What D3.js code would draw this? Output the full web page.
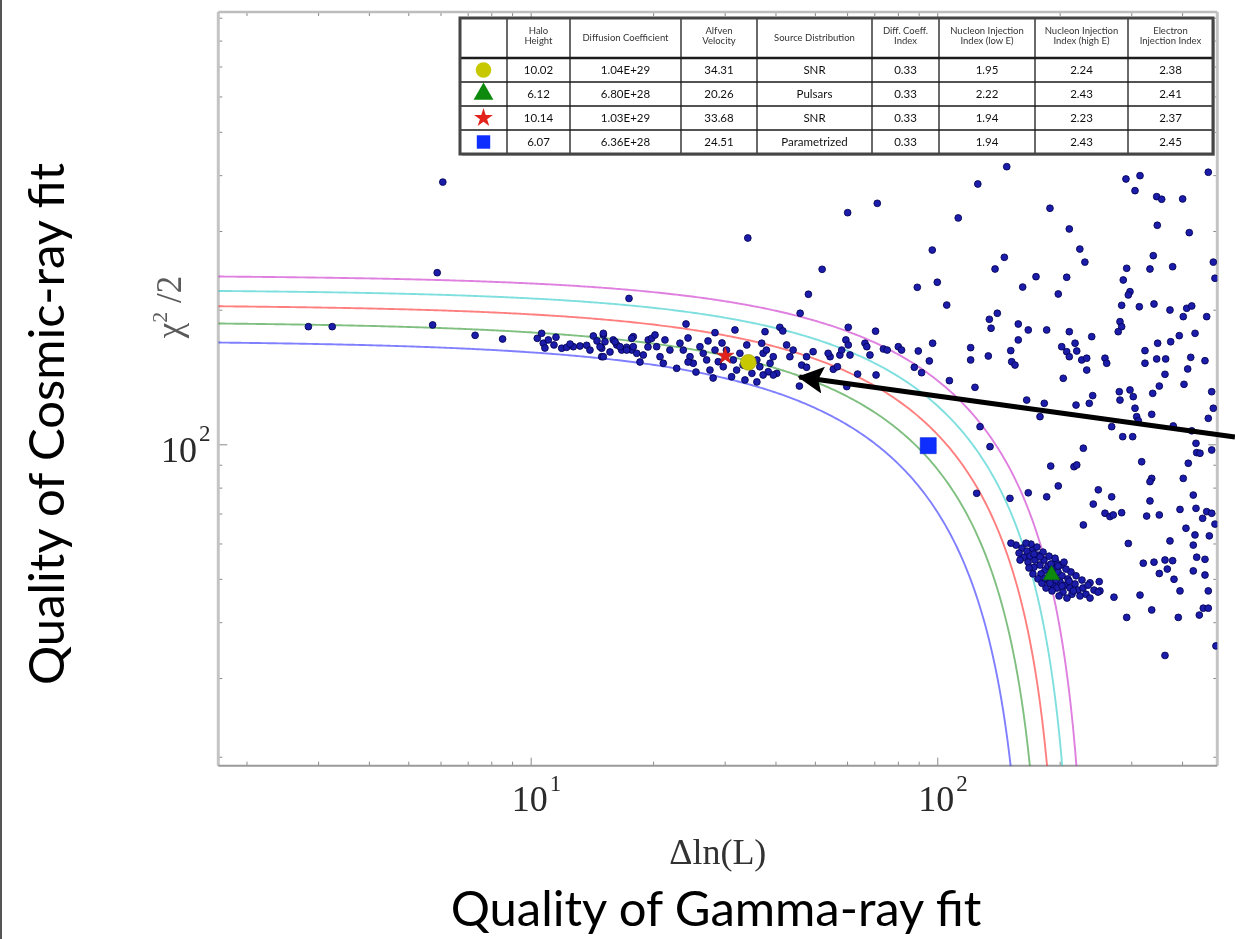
<!DOCTYPE html>
<html>
<head>
<meta charset="utf-8">
<script src="https://cdn.jsdelivr.net/npm/d3@7"></script>
<style>
  html, body { margin: 0; padding: 0; background: #fff; }
  svg { display: block; }
</style>
</head>
<body>
<svg id="chart" width="1235" height="939"></svg>
<script>
// ---------------------------------------------------------------
// Model scan: gamma-ray fit quality (ΔlnL) vs cosmic-ray fit quality (χ²/2)
// ---------------------------------------------------------------

// axis extents
const xDomain = [1.705, 488.3];
const yDomain = [19.1, 926.9];

// tick values
const xMinorTicks = [2, 3, 4, 5, 6, 7, 8, 9, 20, 30, 40, 50, 60, 70, 80, 90, 200, 300, 400];
const xMajorTicks = [10, 100];
const xTickExponents = ["1", "2"];
const yMinorTicks = [20, 30, 40, 50, 60, 70, 80, 90, 200, 300, 400, 500, 600, 700, 800, 900];
const yMajorTicks = [100];
const yTickExponents = ["2"];

// levels of ΔlnL + χ²/2 = const
const totalLevels = [170.6, 188.0, 205.3, 222.0, 239.0];

// scanned models along the low-χ² band  [ΔlnL, χ²/2]
const bandPoints = [
  [6.08,386],[5.89,242],[17.45,212],[2.84,183.3],[3.25,183.3],[5.74,184.9],[7.30,175.3],[8.53,172],
  [10.38,172.6],[10.64,177.1],[10.74,168.3],[11.05,171.2],[11.54,173.6],[11.41,166.8],[11.92,164.0],[12.26,164.8],
  [12.73,165.3],[13.22,165.9],[13.73,166.5],[14.26,174.7],[15.09,175.6],[15.23,169.6],[14.95,164.0],[14.95,157.0],
  [15.96,171.2],[16.28,166.8],[16.74,162.5],[17.22,164.8],[17.88,174.1],[17.72,162.5],[18.23,159.8],[18.92,158.4],
  [19.46,171.2],[24.1,185.8],[28.4,177.7],[31.8,180.2],[37.7,178.6],[41.0,182.7],[41.7,179.3],[60.4,182.7],
  [70.5,179.1],[59.6,171.2],[60.4,166.8],[66.4,168.3],[67.1,165.3],[73.7,163.4],[75.3,162.5],[80.2,165.3],
  [81.7,162.5],[89.8,161.7],[97.4,168.3],[95.6,153.6],[87.8,148.7],[91.5,144.6],[107.1,138.8],[123.8,134.1],
  [120.8,164.5],[120.8,154.4],[133.5,157.6],[89.3,224.5],[100,230.4],[105.5,204.9],[134.3,190.4],[135.6,181.8],
  [140.5,196.4],[97.2,272],[138.7,246.7],[127.4,109.5],[134.8,98.8],
  [45.8,135.0],[70.7,142.9],[63.7,143.6],[55.5,147.2],[56.8,149.1],[57.6,158.4],[54.5,157.0],[49.5,161.1],
  [46.4,150.4],[47.7,148.7],[43.4,157.0],[44.2,162.5],[42.6,166.8],[39.5,157.0],[38.8,151.8],[40.3,144.1],
  [38.4,145.3],[36.6,149.1],[37.3,159.8],[38.0,162.5],[37.0,168.3],
  [15.09,177.1],[14.81,165.3],[15.09,157.0],[16.12,169.6],[16.58,165.3],[17.22,162.5],[17.72,172.6],[17.88,165.3],
  [18.57,152.8],[19.84,172.6],[20.41,165.3],[20.80,157.0],[21.19,151.8],[21.39,171.2],[22.0,162.5],[22.86,147.9],
  [23.29,168.3],[23.73,162.5],[24.65,157.0],[25.11,151.8],[26.08,165.3],[26.57,159.8],[27.09,154.4],[27.6,146.6],
  [28.4,162.5],[28.93,153.0],[29.76,149.1],[30.3,162.5],[31.2,141.6],[31.5,154.4],[32.1,146.6],[32.7,159.8],
  [33.3,150.4],[35.0,144.1],[36.0,154.4],[37.3,142.9],[39.5,142.9],
  [10.84,164.2],[12.50,167.6],[13.99,162.5],[14.56,170.3],[15.67,160.9],[19.43,165.1],[20.22,175.6],[24.38,172.9],
  [27.3,170.3],[29.55,168.5],[34.0,166.8],[25.5,145.1],[28.1,140.7],[24.38,152.8],[33.65,139.3],[36.0,137.9],
  [34.2,289.4],[68.3,158.4],[61.0,158.4],[58.2,162.5],[47.7,157.0],[53.9,159.8],[59.9,134.6],[46.0,196.4]
];

// scanned models with poor fits (upper right)
const scatterPoints = [
  [148.2,417.8],[125.8,382.2],[71.2,346.0],[60.2,329.7],[112.6,320.9],[189.3,337.3],[291.1,392.2],[315.2,399.0],
  [306.4,369.3],[464.0,406.1],[346.4,358.1],[356.4,353.3],[401.3,353.9],[347.6,309.0],[416.6,297.5],[211.2,303.2],
  [52.1,246.3],[146.2,262.0],[224.2,273.4],[230.7,255.6],[174.9,237.1],[162.2,224.8],[208.1,236.4],[198.4,216.9],
  [48.2,216.6],[292.3,247.6],[286.7,233.1],[297.8,219.5],[295.0,215.8],[284.1,204.6],[339.8,264.2],[333.5,246.7],
  [379.2,249.6],[477.4,255.6],[481.9,235.2],[314.0,203.1],[341.2,206.0],[373.5,199.7],[410.6,201.5],[422.5,203.9],
  [402.7,193.0],[459.8,193.0],[281.4,188.1],[284.1,183.3],[278.6,178.6],[430.5,177.1],[393.7,175.0],[375.0,169.6],
  [348.3,168.3],[324.2,162.0],[346.4,155.2],[364.5,155.2],[324.2,151.8],[420.1,156.5],[455.4,153.8],[473.0,131.1],
  [412.9,147.4],[404.4,136.2],[363.1,143.4],[351.6,135.0],[338.7,130.0],
  [158.2,185.8],[167.4,180.2],[158.2,171.2],[185.8,180.2],[211.2,178.6],[239.8,174.1],[151.6,162.0],[152.4,153.0],
  [155.3,150.4],[202.3,165.3],[208.1,161.1],[218.2,168.3],[220.3,161.7],[226.6,154.4],[233.1,155.8],[233.1,146.6],
  [211.2,157.0],[258.5,155.8],[261.0,151.8],[204.1,140.5],[165.9,125.6],[183.3,123.5],[178.9,115.3],[219.4,122.4],
  [236.5,123.5],[241.1,128.5],[280.3,131.1],[297.8,132.3],[303.4,127.8],[281.4,125.6],[306.4,120.4],[309.3,115.3],
  [312.2,112.9],[336.8,116.7],[268.5,109.5],[285.8,104.0],[302.4,104.0],[380.5,109.9],[422.5,107.2],[432.8,100.5],
  [434.5,95.8],[442.7,95.5],[477.4,120.4],[464.0,114.3],[228.7,98.0],[216.9,89.1],[220.3,89.9],[190.1,89.4],
  [198.4,80.7],[248.9,79.1],[268.5,76.3],[318.2,91.4],[336.8,83.9],[333.5,82.5],[414.3,90.7],[402.7,83.9],
  [426.2,77.0],[473.0,97.1],[167.4,77.9],[185.8,76.3],[150.9,75.7],[125.0,77.7],
  [241.9,73.5],[258.5,70.1],[265.9,68.9],[270.9,69.5],[284.1,70.3],[327.3,69.1],[351.6,69.5],[333.5,74.7],
  [395.3,71.5],[432.8,71.9],[459.8,70.7],[473.0,70.1],[481.9,66.3],[449.4,68.3],[228.7,66.0],[295.0,60.0],
  [408.9,64.9],[430.3,62.7],[426.2,59.5],[466.7,62.4],[373.5,60.8],[321.1,54.2],[341.2,54.5],[363.1,55.1],
  [379.2,54.9],[351.6,51.4],[367.9,52.6],[382.1,49.9],[426.2,52.1],[434.5,55.9],[455.4,55.3],[455.4,51.0],
  [395.3,47.0],[464.0,47.0],[315.2,46.0],[292.3,41.0],[336.8,42.6],[391.5,41.0],[441.0,41.5],[451.1,43.0],
  [464.0,43.0],[363.1,33.7],[484.6,35.4],[272.0,45.5],[251.2,47.0],[237.5,49.0],[250.2,49.3]
];

// tight group of models around the pulsar best fit
const clusterPoints = [
  [156.2,59.5],[161.6,58.6],[158.9,57.1],[166.2,57.7],[163.4,55.9],[169.0,56.2],[171.9,58.3],[167.2,54.5],
  [173.9,55.1],[176.8,56.5],[178.9,53.7],[172.9,53.1],[183.0,55.1],[184.1,52.3],[179.9,51.3],[187.2,53.4],
  [189.3,51.0],[191.5,52.9],[194.8,50.2],[186.2,49.7],[192.6,48.4],[198.1,51.8],[200.4,49.2],[197.0,47.7],
  [202.7,50.8],[206.1,48.4],[203.8,46.7],[209.6,50.0],[212.0,47.7],[214.4,46.2],[218.1,48.7],[221.8,47.2],
  [224.4,45.8],[228.2,47.7],[232.1,46.2],[237.5,45.3],[219.4,50.8],[213.2,51.8],[207.3,52.6],[201.5,53.7],
  [195.9,54.5],[188.3,56.2],[182.0,57.4],[175.8,58.9],[170.0,59.8],[165.3,60.1],[185.1,47.7],[191.5,47.0],
  [199.3,45.8],[208.4,45.3],[176.8,50.0],[171.9,51.3],[168.1,52.9],[226.9,49.7],[234.8,48.4],[242.9,47.2],
  [248.5,46.7],[205.0,54.5],[194.8,55.6],[159.8,55.1],[180.9,48.9],[151.8,60.1],
  [184.1,50.2],[189.3,48.9],[195.9,49.7],[202.7,48.2],[198.1,53.4],[190.4,54.0],[178.9,56.0],[172.9,56.8],
  [211.0,49.4],[216.0,47.0]
];

// best-fit models
const bestFitShapes = ["circle", "triangle", "star", "square"];
const bestFitDeltaLnL = [34.3, 191.0, 30.1, 95.0];
const bestFitChi2Half = [152.5, 51.0, 157.6, 99.3];

// annotation arrow (from, to) in data units
const arrowFrom = [539.7, 103.8];
const arrowTo = [45.8, 141.5];

// parameter table
const tableHeaders = ["Halo|Height", "Diffusion Coefficient", "Alfven|Velocity", "Source Distribution",
  "Diff. Coeff.|Index", "Nucleon Injection|Index (low E)", "Nucleon Injection|Index (high E)", "Electron|Injection Index"];
const haloHeight = ["10.02", "6.12", "10.14", "6.07"];
const diffusionCoefficient = ["1.04E+29", "6.80E+28", "1.03E+29", "6.36E+28"];
const alfvenVelocity = ["34.31", "20.26", "33.68", "24.51"];
const sourceDistribution = ["SNR", "Pulsars", "SNR", "Parametrized"];
const diffCoeffIndex = ["0.33", "0.33", "0.33", "0.33"];
const nucleonIndexLow = ["1.95", "2.22", "1.94", "1.94"];
const nucleonIndexHigh = ["2.24", "2.43", "2.23", "2.43"];
const electronIndex = ["2.38", "2.41", "2.37", "2.45"];

// ---------------------------------------------------------------
const svg = d3.select("#chart");
const plot = { left: 218.3, right: 1217.3, top: 12, bottom: 765.7 };

const x = d3.scaleLog().domain(xDomain).range([plot.left, plot.right]);
const y = d3.scaleLog().domain(yDomain).range([plot.bottom, plot.top]);

const defs = svg.append("defs");
defs.append("clipPath").attr("id", "plotClip")
  .append("rect")
  .attr("x", plot.left).attr("y", plot.top)
  .attr("width", plot.right - plot.left).attr("height", plot.bottom - plot.top);
defs.append("filter").attr("id", "soft").attr("x", "-5%").attr("y", "-5%").attr("width", "110%").attr("height", "110%")
  .append("feGaussianBlur").attr("stdDeviation", 0.45);
defs.append("filter").attr("id", "softer").attr("x", "-5%").attr("y", "-5%").attr("width", "110%").attr("height", "110%")
  .append("feGaussianBlur").attr("stdDeviation", 0.6);
defs.append("marker")
  .attr("id", "arrowHead")
  .attr("markerUnits", "userSpaceOnUse")
  .attr("viewBox", "0 0 26 27")
  .attr("markerWidth", 26).attr("markerHeight", 27)
  .attr("refX", 24).attr("refY", 13.5)
  .attr("orient", "auto")
  .append("path")
  .attr("d", "M0,0 L26,13.5 L0,27 L5,13.5 Z")
  .attr("fill", "#000");

// slide border
svg.append("line").attr("x1", 1).attr("x2", 1).attr("y1", 0).attr("y2", 939)
  .attr("stroke", "#555").attr("stroke-width", 2);

const chart = svg.append("g").attr("filter", "url(#soft)");

// ticks (inward, on all four sides)
function tickRow(axis, values, size, transform) {
  const g = chart.append("g").attr("transform", transform)
    .call(axis.tickValues(values).tickSizeInner(size).tickSizeOuter(0).tickFormat(""));
  g.select(".domain").remove();
  g.selectAll(".tick line").attr("stroke", "#8a8a8a").attr("stroke-width", 1);
}
tickRow(d3.axisBottom(x), xMinorTicks, -4, `translate(0,${plot.bottom})`);
tickRow(d3.axisBottom(x), xMajorTicks, -8, `translate(0,${plot.bottom})`);
tickRow(d3.axisTop(x), xMinorTicks, -4, `translate(0,${plot.top})`);
tickRow(d3.axisTop(x), xMajorTicks, -8, `translate(0,${plot.top})`);
tickRow(d3.axisLeft(y), yMinorTicks, -4, `translate(${plot.left},0)`);
tickRow(d3.axisLeft(y), yMajorTicks, -9, `translate(${plot.left},0)`);
tickRow(d3.axisRight(y), yMinorTicks, -4, `translate(${plot.right},0)`);
tickRow(d3.axisRight(y), yMajorTicks, -9, `translate(${plot.right},0)`);

// frame
chart.append("line").attr("x1", plot.left).attr("x2", plot.left).attr("y1", plot.top).attr("y2", plot.bottom)
  .attr("stroke", "#c4c4c4").attr("stroke-width", 3);
chart.append("line").attr("x1", plot.right).attr("x2", plot.right).attr("y1", plot.top).attr("y2", plot.bottom)
  .attr("stroke", "#c4c4c4").attr("stroke-width", 3);
chart.append("line").attr("x1", plot.left).attr("x2", plot.right).attr("y1", plot.top).attr("y2", plot.top)
  .attr("stroke", "#bdbdbd").attr("stroke-width", 2.5);
chart.append("line").attr("x1", plot.left).attr("x2", plot.right).attr("y1", plot.bottom).attr("y2", plot.bottom)
  .attr("stroke", "#9a9a9a").attr("stroke-width", 2);

// iso-likelihood curves
const levelColors = ["#0000ff", "#008000", "#ff0000", "#00bfbf", "#bf00bf"];
const inner = chart.append("g").attr("clip-path", "url(#plotClip)");
const line = d3.line().x(d => x(d[0])).y(d => y(d[1]));
totalLevels.forEach((c, i) => {
  const xEnd = c - yDomain[0] * 0.8;
  const pts = d3.range(0, 401).map(k => {
    const xv = xDomain[0] * Math.pow(xEnd / xDomain[0], k / 400);
    return [xv, c - xv];
  });
  inner.append("path").datum(pts).attr("d", line)
    .attr("fill", "none").attr("stroke", levelColors[i])
    .attr("stroke-opacity", 0.5).attr("stroke-width", 1.9);
});

// scanned models
const allPoints = bandPoints.concat(scatterPoints, clusterPoints);
inner.append("g").selectAll("circle").data(allPoints).join("circle")
  .attr("cx", d => x(d[0])).attr("cy", d => y(d[1])).attr("r", 3.4)
  .attr("fill", "#1c1cab").attr("stroke", "#00004d").attr("stroke-width", 0.8);

// best-fit markers
const shapeStyle = {
  circle:   { fill: "#c8c800", stroke: "#9a9a00", sym: d3.symbolCircle, size: 200 },
  triangle: { fill: "#0c8a0c", stroke: "#066006", sym: d3.symbolTriangle, size: 120 },
  star:     { fill: "#e3241f", stroke: "#b01010", sym: d3.symbolStar, size: 90 },
  square:   { fill: "#0a2eff", stroke: "#0020d0", sym: d3.symbolSquare, size: 256 }
};
const bestFits = bestFitShapes.map((s, i) => ({ shape: s, x: bestFitDeltaLnL[i], y: bestFitChi2Half[i] }));
inner.append("g").selectAll("path").data(bestFits).join("path")
  .attr("transform", d => `translate(${x(d.x)},${y(d.y)})`)
  .attr("d", d => d3.symbol(shapeStyle[d.shape].sym, shapeStyle[d.shape].size)())
  .attr("fill", d => shapeStyle[d.shape].fill)
  .attr("stroke", d => shapeStyle[d.shape].stroke).attr("stroke-width", 0.6);

// tick labels
const serif = "'Liberation Serif', 'DejaVu Serif', serif";
xMajorTicks.forEach((v, i) => {
  chart.append("text").attr("x", x(v) - 1).attr("y", 811).attr("text-anchor", "middle")
    .attr("font-family", serif).attr("font-size", 36).attr("fill", "#2a2a2a").text("10");
  chart.append("text").attr("x", x(v) + 19).attr("y", 791).attr("text-anchor", "start")
    .attr("font-family", serif).attr("font-size", 23).attr("fill", "#2a2a2a").text(xTickExponents[i]);
});
yMajorTicks.forEach((v, i) => {
  chart.append("text").attr("x", 197).attr("y", y(v) + 18).attr("text-anchor", "end")
    .attr("font-family", serif).attr("font-size", 36).attr("fill", "#2a2a2a").text("10");
  chart.append("text").attr("x", 199).attr("y", y(v) - 3).attr("text-anchor", "start")
    .attr("font-family", serif).attr("font-size", 23).attr("fill", "#2a2a2a").text(yTickExponents[i]);
});

// axis titles of the plot
chart.append("text").attr("x", (plot.left + plot.right) / 2).attr("y", 864).attr("text-anchor", "middle")
  .attr("font-family", serif).attr("font-size", 36).attr("fill", "#333").text("\u0394ln(L)");
const yt = chart.append("text").attr("transform", "translate(181,307) rotate(-90)")
  .attr("text-anchor", "middle").attr("font-family", serif).attr("font-size", 35).attr("fill", "#5a5a5a");
yt.append("tspan").text("\u03c7");
yt.append("tspan").attr("dy", -14).attr("font-size", 22).text("2");
yt.append("tspan").attr("dy", 14).text(" /2");

// parameter table
const colEdges = [460, 507, 570, 681, 757, 872, 939, 1035, 1128, 1213];
const rowEdges = [18, 58, 82, 106, 130, 154];
const tableColumns = [haloHeight, diffusionCoefficient, alfvenVelocity, sourceDistribution,
  diffCoeffIndex, nucleonIndexLow, nucleonIndexHigh, electronIndex];
const table = svg.append("g").attr("filter", "url(#softer)");
const tW = colEdges[colEdges.length - 1] - colEdges[0];
const tH = rowEdges[rowEdges.length - 1] - rowEdges[0];
table.append("rect").attr("x", colEdges[0] + 2).attr("y", rowEdges[0] + 2).attr("width", tW).attr("height", tH)
  .attr("fill", "#bdbdbd");
table.append("rect").attr("x", colEdges[0]).attr("y", rowEdges[0]).attr("width", tW).attr("height", tH)
  .attr("fill", "#fff");
colEdges.slice(1, -1).forEach(cx => table.append("line")
  .attr("x1", cx).attr("x2", cx).attr("y1", rowEdges[0]).attr("y2", rowEdges[rowEdges.length - 1])
  .attr("stroke", "#1a1a1a").attr("stroke-width", 1.3));
rowEdges.slice(1, -1).forEach((ry, i) => table.append("line")
  .attr("x1", colEdges[0]).attr("x2", colEdges[colEdges.length - 1]).attr("y1", ry).attr("y2", ry)
  .attr("stroke", "#1a1a1a").attr("stroke-width", i === 0 ? 2.6 : 1.3));
table.append("rect").attr("x", colEdges[0]).attr("y", rowEdges[0]).attr("width", tW).attr("height", tH)
  .attr("fill", "none").attr("stroke", "#444").attr("stroke-width", 3);

const tableFont = "Lato, 'Open Sans', sans-serif";
tableHeaders.forEach((h, c) => {
  const cx = (colEdges[c + 1] + colEdges[c + 2]) / 2;
  const lines = h.split("|");
  const first = lines.length === 1 ? 41 : 34;
  lines.forEach((t, k) => table.append("text").attr("x", cx).attr("y", first + k * 10)
    .attr("text-anchor", "middle").attr("font-family", tableFont).attr("font-size", 9.5)
    .attr("fill", "#333").text(t));
});
tableColumns.forEach((col, c) => {
  const cx = (colEdges[c + 1] + colEdges[c + 2]) / 2;
  col.forEach((v, r) => table.append("text").attr("x", cx).attr("y", (rowEdges[r + 1] + rowEdges[r + 2]) / 2 + 4)
    .attr("text-anchor", "middle").attr("font-family", tableFont).attr("font-size", 11.5)
    .attr("fill", "#111").text(v));
});
const legendSizes = { circle: 190, triangle: 170, star: 110, square: 180 };
bestFitShapes.forEach((s, r) => {
  table.append("path")
    .attr("transform", `translate(${(colEdges[0] + colEdges[1]) / 2},${(rowEdges[r + 1] + rowEdges[r + 2]) / 2})`)
    .attr("d", d3.symbol(shapeStyle[s].sym, legendSizes[s])())
    .attr("fill", shapeStyle[s].fill);
});

// annotation arrow
svg.append("line")
  .attr("x1", x(arrowFrom[0])).attr("y1", y(arrowFrom[1]))
  .attr("x2", x(arrowTo[0])).attr("y2", y(arrowTo[1]))
  .attr("stroke", "#000").attr("stroke-width", 5)
  .attr("marker-end", "url(#arrowHead)");

// slide titles
const titleFont = "Lato, 'Open Sans', sans-serif";
svg.append("text").attr("transform", "translate(64,424) rotate(-90)").attr("text-anchor", "middle")
  .attr("font-family", titleFont).attr("font-size", 49).attr("fill", "#000").text("Quality of Cosmic-ray fit");
svg.append("text").attr("x", 716).attr("y", 926).attr("text-anchor", "middle")
  .attr("font-family", titleFont).attr("font-size", 49).attr("fill", "#000").text("Quality of Gamma-ray fit");
</script>
</body>
</html>
